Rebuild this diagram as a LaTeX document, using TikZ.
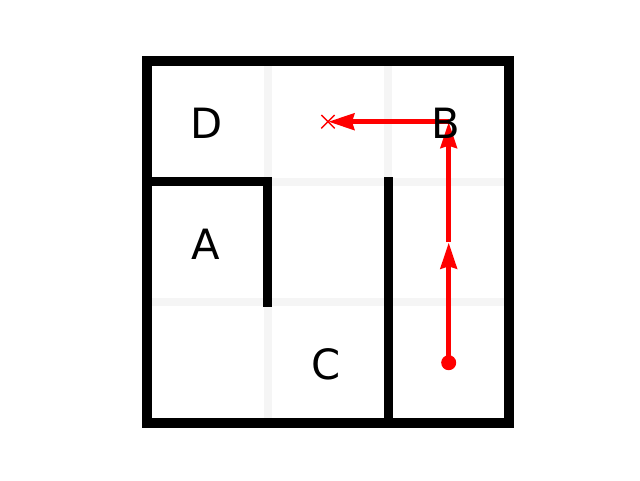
\documentclass[tikz,border=0pt]{standalone}
\usepackage{fontspec}
\setmainfont{DejaVu Sans}
\usetikzlibrary{arrows.meta,shapes.misc}
\definecolor{gridgray}{HTML}{F5F5F5}
\definecolor{pathred}{HTML}{FF0000}
\begin{document}
\begin{tikzpicture}[x=1pt,y=-1pt,
  gridline/.style={draw=gridgray, line width=8pt},
  wall/.style={draw=black, line width=8.5pt, line cap=rect},
  border/.style={draw=black, line width=10pt, line join=miter},
  route/.style={draw=pathred, line width=5.5pt, -{Stealth[length=26pt,width=16pt,inset=2pt]}},
  lbl/.style={font=\fontsize{41.7}{50}\selectfont, inner sep=0pt},
  dot/.style={circle, fill=pathred, minimum size=15pt, inner sep=0pt},
  xmark/.style={cross out, draw=pathred, line width=1.4pt, minimum size=12pt, inner sep=0pt}
]
\useasboundingbox (0,0) rectangle (640,480);
% grid corners
\coordinate (g00) at (147,61);
\coordinate (g33) at (509,423);
% light grid lines
\draw[gridline] (267.7,61) -- (267.7,423);
\draw[gridline] (388.3,61) -- (388.3,423);
\draw[gridline] (147,181.7) -- (509,181.7);
\draw[gridline] (147,302.3) -- (509,302.3);
% inner walls
\draw[wall] (147,181.7) -- (267.7,181.7) -- (267.7,302.3);
\draw[wall] (388.3,181.7) -- (388.3,423);
% outer border
\draw[border] (g00) rectangle (g33);
% route
\node[dot] (start) at (448.7,362.7) {};
\coordinate (mid) at (448.7,242.3);
\coordinate (bpt) at (448.7,121.7);
\node[xmark] (goal) at (328,121.7) {};
\draw[route] (start.center) -- (mid);
\draw[route] (mid) -- (bpt);
\draw[route] (bpt) -- (goal.center);
% labels
\node[lbl] (D) at (206.8,123.3) {D};
\node[lbl] (A) at (205.3,244.5) {A};
\node[lbl] (C) at (326,364.7) {C};
\node[lbl] (B) at (446.2,123.5) {B};
\end{tikzpicture}
\end{document}
